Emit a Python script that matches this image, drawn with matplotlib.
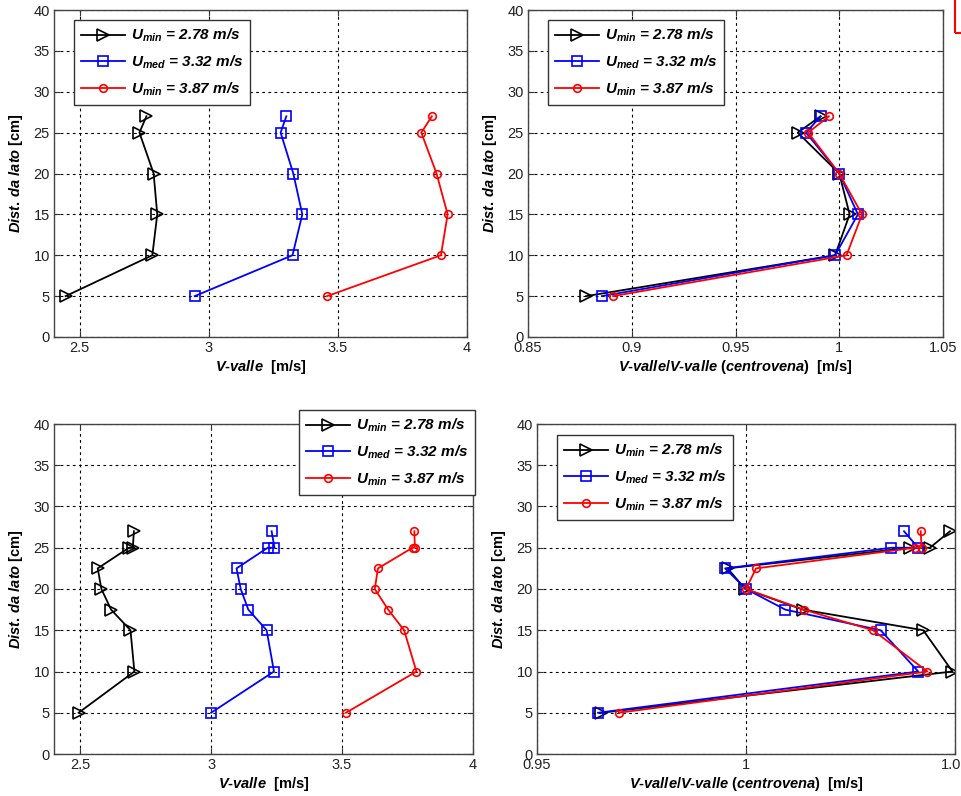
import matplotlib
matplotlib.use("Agg")
import matplotlib.pyplot as plt
from matplotlib.patches import Rectangle

plt.rcParams['font.family'] = ['Liberation Sans', 'DejaVu Sans']
plt.rcParams['mathtext.fontset'] = 'custom'
plt.rcParams['mathtext.it'] = 'Liberation Sans:italic:bold'
plt.rcParams['mathtext.rm'] = 'Liberation Sans:bold'
plt.rcParams['mathtext.bf'] = 'Liberation Sans:bold'

# series labels
labels = [r"$U_{min}$ = 2.78 m/s", r"$U_{med}$ = 3.32 m/s", r"$U_{min}$ = 3.87 m/s"]

# top row: distances from the side [cm]
y_top = [5, 10, 15, 20, 25, 27]
v_top_k = [2.445, 2.781, 2.800, 2.786, 2.731, 2.758]
v_top_b = [2.945, 3.324, 3.362, 3.327, 3.278, 3.300]
v_top_r = [3.458, 3.899, 3.925, 3.882, 3.823, 3.864]
n_top_k = [0.878, 0.998, 1.005, 1.000, 0.980, 0.991]
n_top_b = [0.8856, 0.998, 1.009, 1.000, 0.984, 0.991]
n_top_r = [0.891, 1.0035, 1.011, 1.000, 0.985, 0.995]

# bottom row
y_bot = [5, 10, 15, 17.5, 20, 22.5, 25, 25, 27]
v_bot_k = [2.494, 2.707, 2.692, 2.618, 2.581, 2.567, 2.686, 2.701, 2.705]
v_bot_b = [3.000, 3.240, 3.212, 3.142, 3.113, 3.097, 3.216, 3.242, 3.231]
v_bot_r = [3.515, 3.784, 3.737, 3.676, 3.625, 3.637, 3.769, 3.778, 3.776]
n_bot_k = [0.9654, 1.0494, 1.0424, 1.0136, 0.9998, 0.9956, 1.0392, 1.0440, 1.0488]
n_bot_b = [0.9646, 1.0412, 1.0322, 1.0094, 1.0000, 0.9950, 1.0348, 1.0412, 1.0378]
n_bot_r = [0.9696, 1.0434, 1.0304, 1.0138, 1.0000, 1.0024, 1.0404, 1.0420, 1.0418]

x_ticks_v = [2.5, 3, 3.5, 4]
x_ticklabels_v = ['2.5', '3', '3.5', '4']
x_ticks_n1 = [0.85, 0.9, 0.95, 1, 1.05]
x_ticklabels_n1 = ['0.85', '0.9', '0.95', '1', '1.05']
x_ticks_n2 = [0.95, 1, 1.05]
x_ticklabels_n2 = ['0.95', '1', '1.05']
y_ticks = [0, 5, 10, 15, 20, 25, 30, 35, 40]

W, H = 961, 796
fig = plt.figure(figsize=(W / 100, H / 100), dpi=100)


def box(l, t, r, b):
    return [l / W, 1 - b / H, (r - l) / W, (b - t) / H]


styles = [dict(color='black', marker='>', ms=8),
          dict(color='#0000ff', marker='s', ms=6.5),
          dict(color='#ff0000', marker='o', ms=5.5)]


def panel(rect, y, xs, xlim, xticks, xticklabels, xlabel, leg_xy):
    ax = fig.add_axes(rect)
    for x, st in zip(xs, styles):
        ax.plot(x, y, color=st['color'], marker=st['marker'], ms=st['ms'],
                mfc='none', mec=st['color'], mew=1.2, lw=1.3)
    ax.set_xlim(xlim)
    ax.set_ylim(0, 40)
    ax.set_xticks(xticks)
    ax.set_xticklabels(xticklabels)
    ax.set_yticks(y_ticks)
    ax.tick_params(direction='in', top=True, right=True, labelsize=10.5,
                   labelcolor='#222222', color='#333333', length=4, pad=3)
    ax.grid(True, color='black', linestyle=(0, (2.5, 3)), linewidth=0.8)
    for s in ax.spines.values():
        s.set_color('#444444')
        s.set_linewidth(1.0)
    ax.set_xlabel(xlabel, fontsize=10.5, fontweight='bold', labelpad=2)
    ax.set_ylabel(r"$Dist.\,da\ lato$ [cm]", fontsize=10.5, fontweight='bold', labelpad=6)
    leg = ax.legend(labels, loc='upper left',
                    bbox_to_anchor=(leg_xy[0] / W, 1 - leg_xy[1] / H),
                    bbox_transform=fig.transFigure, borderaxespad=0,
                    fancybox=False, framealpha=1, edgecolor='#333333',
                    prop=dict(family='Liberation Sans', weight='bold', style='italic', size=11),
                    handlelength=2.9, handletextpad=0.35, labelspacing=0.62,
                    borderpad=0.45, numpoints=1)
    leg.get_frame().set_linewidth(1.0)
    return ax


lab_v = r"$V\text{-}valle$  [m/s]"
lab_n = r"$V\text{-}valle/V\text{-}valle\ (centrovena)$  [m/s]"

panel(box(54, 10, 467, 337), y_top, [v_top_k, v_top_b, v_top_r], (2.4, 4.0),
      x_ticks_v, x_ticklabels_v, lab_v, (74, 20))
panel(box(528, 10, 943, 337), y_top, [n_top_k, n_top_b, n_top_r], (0.85, 1.05),
      x_ticks_n1, x_ticklabels_n1, lab_n, (548, 20))
panel(box(54, 424, 473, 754), y_bot, [v_bot_k, v_bot_b, v_bot_r], (2.4, 4.0),
      x_ticks_v, x_ticklabels_v, lab_v, (299, 410))
panel(box(537, 424, 955, 754), y_bot, [n_bot_k, n_bot_b, n_bot_r], (0.95, 1.05),
      x_ticks_n2, x_ticklabels_n2, lab_n, (557, 435))

# clipped red frame in the upper right corner
fig.add_artist(Rectangle((955 / W, 1 - 33 / H), 0.02, 0.06, transform=fig.transFigure,
                         fill=False, edgecolor='red', linewidth=1.5, clip_on=False))

fig.savefig('out.png', dpi=100)
